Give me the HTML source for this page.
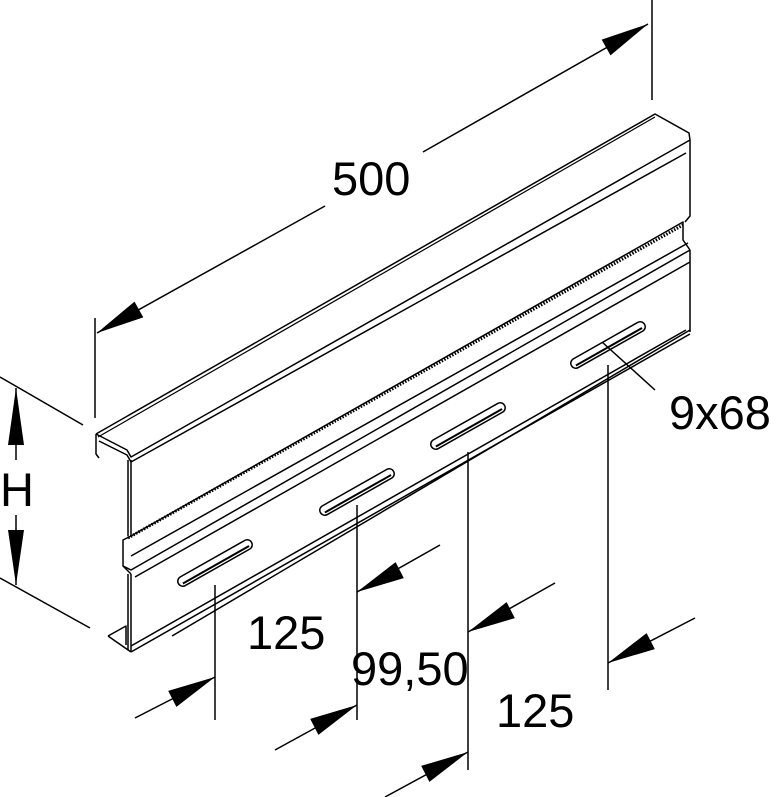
<!DOCTYPE html>
<html><head><style>
html,body{margin:0;padding:0;background:#fff;}
svg{display:block;}
text{font-family:"Liberation Sans",sans-serif;fill:#000;}
</style></head><body>
<svg width="777" height="797" viewBox="0 0 777 797" xmlns="http://www.w3.org/2000/svg">
<g stroke="#000" fill="none" stroke-width="1.5" stroke-linejoin="round">
<path d="M96,434 L655,114 L689,133 L690,140 L690,216 L685,222"/>
<path d="M98,437 L655,117" stroke-width="1.2"/>
<path d="M96,434 L96,454 L99,458"/>
<path d="M99,441 L127,455 L131,462"/>
<path d="M96,434 L127,450 L131,457 L690,140"/>
<path d="M131,462 L686,153"/>
<path d="M128,460 L128,536"/>
<path d="M131,460 L131,536"/>
<path d="M131,536 L123,540 L123,566 L131,574"/>
<path d="M131,536 L683,222 L683,240 L690,250"/>
<path d="M128,538 L683,225" stroke-width="3" stroke-dasharray="1.5,1.5"/>
<path d="M131,556 L688,243"/>
<path d="M123,566 L131,570 L690,250"/>
<path d="M135,577 L690,262"/>
<path d="M128,574 L128,650"/>
<path d="M131,574 L131,652"/>
<path d="M690,250 L690,332"/>
<path d="M131,652 L690,334"/>
<path d="M131,646 L686,330"/>
<path d="M108,636 L131,652"/>
<path d="M108,636 L126,626 L126,645"/>
<path d="M172,636 L690,330"/>
</g>
<g stroke="#000" fill="none" stroke-width="1.5">
<g transform="translate(215,563) rotate(-29.5)"><rect x="-42" y="-5" width="84" height="10" rx="5"/><line x1="-38" y1="2" x2="38" y2="2" stroke-width="2"/></g>
<g transform="translate(357,492) rotate(-29.5)"><rect x="-42" y="-5" width="84" height="10" rx="5"/><line x1="-38" y1="2" x2="38" y2="2" stroke-width="2"/></g>
<g transform="translate(468,426) rotate(-29.5)"><rect x="-42" y="-5" width="84" height="10" rx="5"/><line x1="-38" y1="2" x2="38" y2="2" stroke-width="2"/></g>
<g transform="translate(608,345) rotate(-29.5)"><rect x="-42" y="-5" width="84" height="10" rx="5"/><line x1="-38" y1="2" x2="38" y2="2" stroke-width="2"/></g>
</g>
<g stroke="#000" stroke-width="1.5" fill="none">
<line x1="95" y1="318" x2="95" y2="418"/>
<line x1="652" y1="0" x2="652" y2="100"/>
<line x1="97" y1="333" x2="325" y2="206"/>
<line x1="423" y1="152" x2="648" y2="24"/>
<line x1="0" y1="377" x2="83" y2="425"/>
<line x1="0" y1="578" x2="90" y2="628"/>
<line x1="16" y1="388" x2="16" y2="460"/>
<line x1="16" y1="515" x2="16" y2="585"/>
<line x1="215" y1="585" x2="215" y2="720"/>
<line x1="357" y1="505" x2="357" y2="720"/>
<line x1="468" y1="452" x2="468" y2="770"/>
<line x1="608" y1="365" x2="608" y2="690"/>
<line x1="357" y1="592" x2="440" y2="545"/>
<line x1="135" y1="718" x2="215" y2="677"/>
<line x1="275" y1="750" x2="357" y2="705"/>
<line x1="468" y1="632" x2="555" y2="583"/>
<line x1="385" y1="797" x2="468" y2="752"/>
<line x1="608" y1="663" x2="695" y2="618"/>
<line x1="602" y1="342" x2="655" y2="390"/>
</g>
<g fill="#000">
<polygon points="97,333 143.3,317.4 134.5,301.6"/>
<polygon points="648,24 610.5,55.4 601.7,39.6"/>
<polygon points="16,388 8,445 24,445"/>
<polygon points="16,585 8,530 24,530"/>
<polygon points="357,592 403.8,578.1 395.6,562.1"/>
<polygon points="215,677 176.4,706.9 168.2,690.9"/>
<polygon points="357,705 318.4,734.9 310.2,718.9"/>
<polygon points="468,632 514.8,618.1 506.6,602.1"/>
<polygon points="468,752 429.4,781.9 421.2,765.9"/>
<polygon points="608,663 654.8,649.1 646.6,633.1"/>
</g>
<g font-size="47">
<text x="332" y="195">500</text>
<text x="0" y="506">H</text>
<text x="247" y="649">125</text>
<text x="351" y="685">99,50</text>
<text x="496" y="727">125</text>
<text x="669" y="429">9x68</text>
</g>
</svg>
</body></html>
